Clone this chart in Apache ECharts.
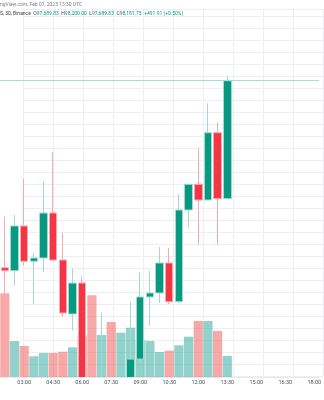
<!DOCTYPE html>
<html>
<head>
<meta charset="utf-8">
<script src="https://cdn.jsdelivr.net/npm/echarts@6/dist/echarts.min.js"></script>
<style>
  html, body { margin: 0; padding: 0; background: #ffffff; }
  #chart { width: 324px; height: 400px; }
</style>
</head>
<body>
<div id="chart"></div>
<script>
// 30-minute slots shown on the time axis (candles fill the first 24)
const times = [
  '02:00', '02:30', '03:00', '03:30', '04:00', '04:30', '05:00', '05:30',
  '06:00', '06:30', '07:00', '07:30', '08:00', '08:30', '09:00', '09:30',
  '10:00', '10:30', '11:00', '11:30', '12:00', '12:30', '13:00', '13:30',
  '14:00', '14:30', '15:00', '15:30', '16:00', '16:30', '17:00', '17:30', '18:00'
];
const tickLabels = ['03:00', '04:30', '06:00', '07:30', '09:00', '10:30', '12:00', '13:30', '15:00', '16:30', '18:00'];

// OHLC per 30-minute candle (USDT)
const opens = [97401.90, 97389.50, 97575.90, 97428.60, 97442.40, 97630.00, 97434.00, 97208.90,
  97338.00, 96900.00, 96790.00, 96930.00, 96850.00, 96900.00, 97021.00, 97279.80,
  97296.50, 97421.50, 97260.20, 97642.60, 97749.70, 97684.30, 97964.90, 97689.83];
const closes = [97389.50, 97575.90, 97428.60, 97442.40, 97630.00, 97434.00, 97213.00, 97338.00,
  96900.00, 96790.00, 96930.00, 96850.00, 96900.00, 97021.00, 97279.80, 97296.50,
  97421.50, 97260.20, 97642.60, 97749.70, 97684.30, 97964.90, 97689.84, 98181.75];
const highs = [97614.60, 97621.70, 97771.80, 97463.30, 97759.30, 97885.70, 97546.70, 97400.70,
  97364.40, 96975.00, 97213.00, 97017.00, 96940.00, 97259.00, 97381.00, 97388.00,
  97488.00, 97484.00, 97709.30, 97752.00, 97899.90, 98087.50, 98008.30, 98200.00];
const lows = [97046.00, 97329.80, 97410.30, 97250.60, 97384.00, 97430.00, 97197.70, 97139.00,
  96800.00, 96650.00, 96700.00, 96720.00, 96760.00, 96850.00, 97010.00, 97160.00,
  97254.80, 97250.60, 97255.00, 97568.70, 97499.50, 97684.30, 97499.50, 97689.83];
// traded volume per candle (BTC)
const volumes = [1674, 720, 620, 414, 480, 480, 506, 594, 820, 1634, 840, 1100,
  886, 986, 740, 720, 500, 526, 634, 806, 1120, 1120, 920, 420];

const UP = '#089981', DOWN = '#f23645';
const UP_LIGHT = '#a3d9d0', DOWN_LIGHT = '#f7a9b1';
const VOL_UP = 'rgba(38,166,154,0.5)', VOL_DOWN = 'rgba(239,83,80,0.5)';
const GRID_LINE = '#eceef1';

// price pane geometry: dollars per pixel and a reference level
const PX_PER_USD = 1 / 4.17;
const refPrice = 98181.75, refY = 80.7;
const paneBottom = 377;
const priceAt = (y) => refPrice + (refY - y) / PX_PER_USD;
const priceMax = priceAt(0);
const priceMin = priceAt(paneBottom);
const gridTop = 9;

const candleData = opens.map((o, i) => [o, closes[i], lows[i], highs[i]]);
const volumeData = volumes.map((v, i) => ({
  value: v,
  itemStyle: { color: closes[i] >= opens[i] ? VOL_UP : VOL_DOWN }
}));

const n = opens.length - 1;
const fmt = (v) => v.toLocaleString('en-US', { minimumFractionDigits: 2, maximumFractionDigits: 2 });
const change = closes[n] - closes[n - 1];
const changePct = change / closes[n - 1] * 100;
const sign = change >= 0 ? '+' : '-';

const FONT = 'Roboto, "Liberation Sans", sans-serif';

const chart = echarts.init(document.getElementById('chart'), null, { renderer: 'canvas' });
chart.setOption({
  animation: false,
  backgroundColor: '#ffffff',
  grid: [
    { left: -2, width: 330, top: 0, height: paneBottom },
    { left: 23, width: 300, top: gridTop, height: 376.1 - gridTop }
  ],
  xAxis: [
    {
      type: 'category', gridIndex: 0, data: times, boundaryGap: true, z: 10,
      axisLine: { show: true, lineStyle: { color: '#e6e7ea', width: 1 } },
      axisTick: { show: false },
      splitLine: { show: false },
      axisLabel: {
        interval: (idx, val) => tickLabels.includes(val),
        color: '#50535e', fontSize: 5.5, fontFamily: FONT, margin: 3
      }
    },
    {
      type: 'value', gridIndex: 1, min: 2, max: 32, interval: 3,
      axisLine: { show: false }, axisTick: { show: false }, axisLabel: { show: false },
      splitLine: { show: true, lineStyle: { color: GRID_LINE, width: 1 } }
    }
  ],
  yAxis: [
    { type: 'value', gridIndex: 0, min: priceMin, max: priceMax, show: false, splitLine: { show: false } },
    { type: 'value', gridIndex: 0, min: 0, max: paneBottom * 20, show: false, splitLine: { show: false } },
    {
      type: 'value', gridIndex: 1, min: 96950, max: priceAt(gridTop), interval: 50,
      axisLine: { show: false }, axisTick: { show: false }, axisLabel: { show: false },
      splitLine: { show: true, lineStyle: { color: GRID_LINE, width: 1 } }
    }
  ],
  series: [
    {
      name: 'Volume', type: 'bar', xAxisIndex: 0, yAxisIndex: 1,
      data: volumeData, barWidth: '95%', z: 2, clip: true
    },
    {
      name: 'BTCUSDT', type: 'candlestick', xAxisIndex: 0, yAxisIndex: 0,
      data: candleData, barWidth: 8, z: 3, clip: true,
      itemStyle: {
        color: UP, color0: DOWN,
        borderColor: UP_LIGHT, borderColor0: DOWN_LIGHT, borderWidth: 1
      },
      markLine: {
        silent: true, symbol: ['none', 'none'],
        label: { show: false },
        lineStyle: { color: '#a6dcd3', type: 'solid', width: 1 },
        data: [{ yAxis: closes[n] }]
      }
    }
  ],
  graphic: [
    // time-scale strip: hides whatever the price pane pushes below its bottom edge
    {
      type: 'rect', left: 0, top: paneBottom, z: 5, silent: true,
      shape: { width: 324, height: 400 - paneBottom },
      style: { fill: '#ffffff' }
    },
    {
      type: 'text', left: 0, top: 2, z: 20,
      style: {
        text: 'ngView.com, Feb 07, 2025 13:30 UTC',
        fill: '#7b7e88', font: '5px ' + FONT
      }
    },
    {
      type: 'text', left: 0, top: 11.5, z: 20,
      style: {
        text: '{s|S, 30, Binance}  {l|O}{v|' + fmt(opens[n]) + '}  {l|H}{v|' + fmt(highs[n]) +
          '}  {l|L}{v|' + fmt(lows[n]) + '}  {l|C}{v|' + fmt(closes[n]) + '}  {v|' + sign +
          fmt(Math.abs(change)) + ' (' + sign + changePct.toFixed(2) + '%)}',
        font: '5px ' + FONT,
        rich: {
          s: { fill: '#3f424c', font: '5px ' + FONT },
          l: { fill: '#3f424c', font: '5px ' + FONT },
          v: { fill: UP, font: '5px ' + FONT }
        }
      }
    }
  ]
});
</script>
</body>
</html>
